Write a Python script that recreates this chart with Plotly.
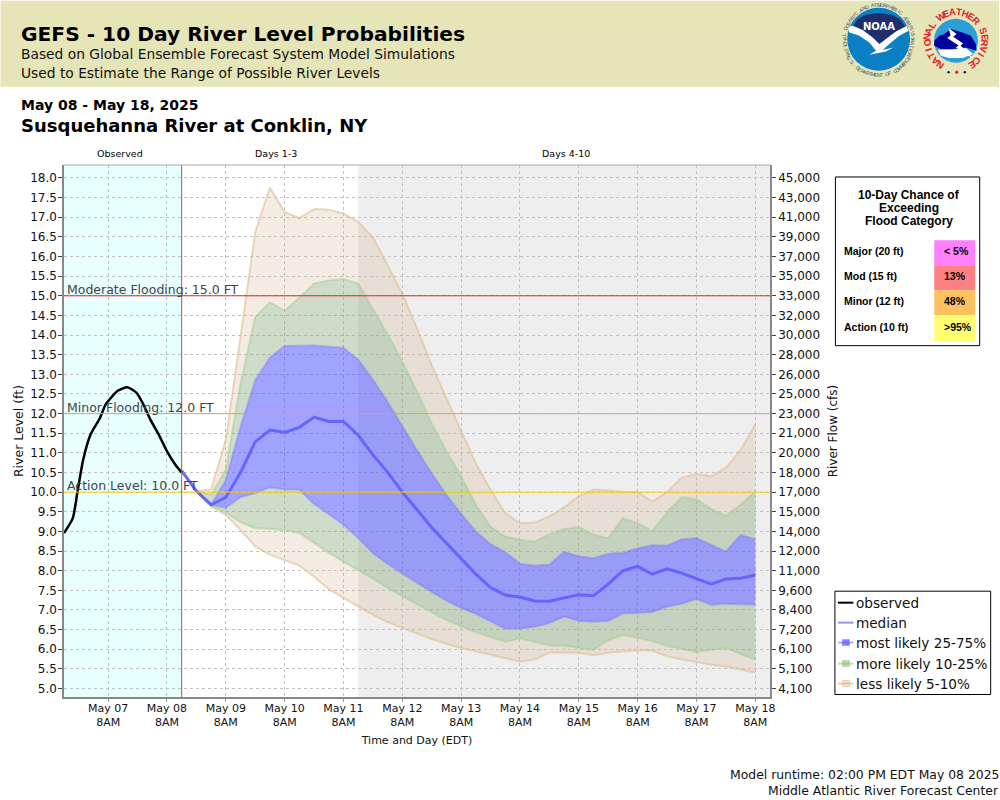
import math
import pandas as pd
import plotly.graph_objects as go

# ---------- data ----------
forecast_start = "2025-05-08 14:00"
observed_start = "2025-05-06 14:00"
observed_hours = [0, 3.6, 5.4, 7.8, 10.8, 14.6, 16.9, 19.0, 21.9, 25.8, 29.6, 32.5, 35.3, 38.7, 42.1, 45.5, 48]
observed_level = [8.96, 9.34, 9.97, 10.82, 11.46, 11.88, 12.22, 12.39, 12.58, 12.67, 12.53, 12.22, 11.84, 11.46, 11.03, 10.69, 10.50]

median = [10.54, 10.03, 9.68, 9.87, 10.50, 11.28, 11.58, 11.52, 11.65, 11.91, 11.80, 11.80, 11.45, 10.95, 10.51, 10.00,
          9.55, 9.10, 8.70, 8.30, 7.91, 7.57, 7.38, 7.33, 7.23, 7.22, 7.30, 7.39, 7.36, 7.66, 8.00, 8.11, 7.91, 8.05, 7.94, 7.80, 7.66, 7.79, 7.81, 7.89]
p75 = [10.54, 10.03, 9.68, 10.31, 11.67, 12.85, 13.43, 13.73, 13.73, 13.74, 13.71, 13.68, 13.38, 12.87, 12.30, 11.67,
       11.07, 10.48, 9.93, 9.45, 9.00, 8.68, 8.47, 8.18, 8.13, 8.16, 8.48, 8.37, 8.32, 8.43, 8.46, 8.57, 8.65, 8.64, 8.80, 8.83, 8.66, 8.49, 8.91, 8.80]
p25 = [10.54, 10.03, 9.68, 9.60, 9.87, 9.97, 10.12, 10.07, 10.06, 9.70, 9.44, 9.17, 8.83, 8.45, 8.17, 7.92,
       7.69, 7.46, 7.24, 7.05, 6.90, 6.71, 6.52, 6.53, 6.57, 6.67, 6.83, 6.72, 6.70, 6.72, 6.91, 6.92, 6.95, 7.08, 7.16, 7.28, 7.13, 7.16, 7.14, 7.13]
p90 = [10.54, 10.03, 9.93, 10.57, 12.76, 14.46, 14.83, 14.62, 14.95, 15.31, 15.39, 15.43, 15.31, 14.67, 14.02, 13.32,
       12.56, 11.75, 11.05, 10.40, 9.68, 9.12, 8.87, 8.79, 8.74, 8.93, 9.06, 9.11, 8.92, 8.83, 9.34, 9.21, 9.01, 9.49, 9.87, 9.82, 9.57, 9.40, 9.68, 10.02]
p10 = [10.54, 10.03, 9.66, 9.48, 9.24, 9.08, 9.07, 9.03, 8.96, 8.70, 8.46, 8.23, 8.02, 7.80, 7.56, 7.35,
       7.13, 6.94, 6.75, 6.58, 6.43, 6.31, 6.19, 6.28, 6.19, 6.10, 6.09, 6.03, 5.98, 6.23, 6.36, 6.29, 6.21, 6.09, 6.01, 5.93, 5.99, 6.03, 5.88, 5.74]
p95 = [10.54, 10.03, 10.07, 11.33, 13.95, 16.62, 17.75, 17.13, 16.98, 17.21, 17.19, 17.10, 16.88, 16.49, 15.78, 15.05,
       14.17, 13.23, 12.39, 11.56, 10.73, 10.06, 9.46, 9.21, 9.23, 9.38, 9.61, 9.89, 10.07, 10.04, 10.01, 10.00, 9.76, 10.00, 10.37, 10.46, 10.40, 10.62, 11.07, 11.73]
p5 = [10.54, 10.03, 9.63, 9.42, 9.04, 8.62, 8.41, 8.28, 8.13, 7.85, 7.53, 7.31, 7.09, 6.88, 6.69, 6.54,
      6.40, 6.26, 6.14, 6.03, 5.95, 5.86, 5.78, 5.69, 5.74, 5.92, 5.92, 5.91, 5.85, 5.91, 5.95, 5.97, 5.97, 5.82, 5.74, 5.67, 5.61, 5.56, 5.48, 5.41]

level_ticks = [5.0, 5.5, 6.0, 6.5, 7.0, 7.5, 8.0, 8.5, 9.0, 9.5, 10.0, 10.5, 11.0, 11.5, 12.0, 12.5, 13.0, 13.5,
               14.0, 14.5, 15.0, 15.5, 16.0, 16.5, 17.0, 17.5, 18.0]
flow_ticks = ["4,100", "5,100", "6,100", "7,200", "8,400", "9,600", "11,000", "12,000", "14,000", "15,000", "17,000",
              "18,000", "20,000", "21,000", "23,000", "25,000", "26,000", "28,000", "30,000", "32,000", "33,000",
              "35,000", "37,000", "39,000", "41,000", "43,000", "45,000"]
day_ticks = ["2025-05-%02d 08:00" % d for d in range(7, 19)]
day_labels = ["May %02d<br>8AM" % d for d in range(7, 19)]

thresholds = [("Moderate Flooding: 15.0 FT", 15.0, "#F02020"), ("Minor Flooding: 12.0 FT", 12.0, "#E8A060"), ("Action Level: 10.0 FT", 10.0, "#FFCC00")]
categories = ["Major (20 ft)", "Mod (15 ft)", "Minor (12 ft)", "Action (10 ft)"]
chances = ["< 5%", "13%", "48%", ">95%"]
chance_colors = ["#FF80FF", "#FF8080", "#FFC060", "#FFFF70"]

legend_rows = [("observed", "#000000", None), ("median", "rgba(102,102,255,0.7)", None),
               ("most likely 25-75%", "rgba(102,102,255,0.55)", "rgba(86,86,255,0.7)"),
               ("more likely 10-25%", "rgba(150,200,130,0.6)", "rgba(135,168,120,0.5)"),
               ("less likely 5-10%", "rgba(225,195,160,0.8)", "rgba(210,180,140,0.35)")]

x_start, x_end = "2025-05-06 14:00", "2025-05-18 14:00"
split_now, split_days = "2025-05-08 14:00", "2025-05-11 14:00"

# ---------- layout geometry (pixels) ----------
L, R, T, B = 63.5, 770.5, 164.5, 697.5
W, H = R - L, B - T
def px(x): return (x - L) / W
def py(y): return 1 - (y - T) / H

times = pd.date_range(forecast_start, periods=len(median), freq="6h")
obs_times = [pd.Timestamp(observed_start) + pd.Timedelta(hours=h) for h in observed_hours]

fig = go.Figure()
TAN = "rgba(210,180,140,0.25)"; GREEN = "rgba(135,168,120,0.4)"; BLUE = "rgba(86,86,255,0.55)"
TAN_L = "rgba(222,190,150,0.6)"; GREEN_L = "rgba(160,205,140,0.5)"; BLUE_L = "rgba(100,100,255,0.3)"
def band(y, fillc, linec, fill="tonexty"):
    fig.add_trace(go.Scatter(x=times, y=y, mode="lines", line=dict(color=linec, width=2), fill=fill, fillcolor=fillc,
                             showlegend=False, hoverinfo="skip"))
band(p5, None, TAN_L, fill="none")
band(p10, TAN, GREEN_L)
band(p25, GREEN, BLUE_L)
band(p75, BLUE, BLUE_L)
band(p90, GREEN, GREEN_L)
band(p95, TAN, TAN_L)
fig.add_trace(go.Scatter(x=times, y=median, mode="lines", name="median", line=dict(color="rgba(90,90,255,0.85)", width=3), showlegend=False))
fig.add_trace(go.Scatter(x=obs_times, y=observed_level, mode="lines", name="observed", line=dict(color="#000000", width=2.5, shape="spline", smoothing=0.6), showlegend=False))
# keeps the right-hand flow axis alive
fig.add_trace(go.Scatter(x=[x_start], y=[level_ticks[0]], yaxis="y2", mode="lines", line=dict(width=0), showlegend=False, hoverinfo="skip"))

shapes, ann = [], []
def rect(x0, y0, x1, y1, fill=None, line=None, lw=1, layer="above"):
    shapes.append(dict(type="rect", xref="paper", yref="paper", x0=px(x0), x1=px(x1), y0=py(y0), y1=py(y1),
                       fillcolor=fill, line=dict(color=line, width=lw if line else 0), layer=layer))
def hline(x0, x1, y, color, lw):
    shapes.append(dict(type="line", xref="paper", yref="paper", x0=px(x0), x1=px(x1), y0=py(y), y1=py(y), line=dict(color=color, width=lw)))
def circle(cx, cy, r, fill, line=None):
    shapes.append(dict(type="circle", xref="paper", yref="paper", x0=px(cx - r), x1=px(cx + r), y0=py(cy - r), y1=py(cy + r),
                       fillcolor=fill, line=dict(color=line, width=1 if line else 0)))
def poly(points, fill):
    d = "M " + " L ".join("%.5f,%.5f" % (px(a), py(b)) for a, b in points) + " Z"
    shapes.append(dict(type="path", xref="paper", yref="paper", path=d, fillcolor=fill, line=dict(width=0)))
def text(x, y, s, size, color="#000000", bold=False, family="DejaVu Sans", anchor="left", angle=0):
    ann.append(dict(xref="paper", yref="paper", x=px(x), y=py(y), text="<b>%s</b>" % s if bold else s, showarrow=False,
                    xanchor=anchor, yanchor="middle", textangle=angle, font=dict(size=size, color=color, family=family),
                    borderpad=0, borderwidth=0, align=anchor))

# background regions (under the grid)
shapes.append(dict(type="rect", xref="x", yref="paper", x0=x_start, x1=split_now, y0=0, y1=1, fillcolor="#E8FFFF", line=dict(width=0), layer="below"))
shapes.append(dict(type="rect", xref="x", yref="paper", x0=split_days, x1=x_end, y0=0, y1=1, fillcolor="#EEEEEE", line=dict(width=0), layer="below"))
# thresholds
for label, lvl, col in thresholds:
    shapes.append(dict(type="line", xref="paper", yref="y", x0=0, x1=1, y0=lvl, y1=lvl, line=dict(color=col, width=1)))
    ann.append(dict(xref="x", yref="y", x=x_start, y=lvl, xshift=0.5, yshift=6.5, text=label, showarrow=False, xanchor="left", yanchor="middle",
                    font=dict(size=12.5, color="#444444", family="DejaVu Sans")))
shapes.append(dict(type="line", xref="x", yref="paper", x0=split_now, x1=split_now, y0=0, y1=1, line=dict(color="#E04040", width=1)))
hline(L, R, T, "#AAAAAA", 1)

# banner
rect(0, 0, 1000, 86, fill="#E5E5B8")
text(20, 33, "GEFS - 10 Day River Level Probabilities", 20.2, bold=True)
text(20, 53, "Based on Global Ensemble Forecast System Model Simulations", 13.8, color="#111111")
text(20, 72, "Used to Estimate the Range of Possible River Levels", 13.8, color="#111111")
text(20, 104, "May 08 - May 18, 2025", 14, bold=True)
text(20, 125, "Susquehanna River at Conklin, NY", 18, bold=True)
text(120, 153, "Observed", 9.5, anchor="center")
text(276, 153, "Days 1-3", 9.5, anchor="center")
text(566, 153, "Days 4-10", 9.5, anchor="center")

# NOAA logo
NX, NY = 879.3, 38.5
circle(NX, NY, 31.5, "#0A7FC4")
def z(points):  # logo sketch coordinates, 3x crop of the banner
    return [(820 + a / 3, b / 3) for a, b in points]
poly(z([(100, 78), (115, 55), (140, 42), (178, 37), (216, 42), (242, 55), (258, 78), (225, 95), (195, 120), (180, 132), (160, 110), (130, 90)]), "#1F2F6B")
poly(z([(86, 78), (100, 75), (130, 88), (160, 110), (180, 130), (200, 115), (230, 92), (262, 76), (268, 90), (240, 105), (210, 130), (190, 148), (222, 140), (200, 152), (150, 162), (170, 150), (150, 125), (120, 105), (90, 95)]), "#FFFFFF")
text(NX, 25.5, "NOAA", 10, color="#FFFFFF", bold=True, anchor="center")
def ring(s, cx, cy, r, a0, a1, size, color, bold=False, bottom=False):
    n = len(s)
    for i, ch in enumerate(s):
        if ch == " ":
            continue
        a = a0 + (a1 - a0) * i / (n - 1)
        t = math.radians(a)
        text(cx + r * math.sin(t), cy - r * math.cos(t), ch, size, color=color, bold=bold, family="Liberation Sans",
             anchor="center", angle=(a + 180 if bottom else a))
ring("NATIONAL OCEANIC AND ATMOSPHERIC ADMINISTRATION", NX, NY, 34.5, -118, 118, 5, "#3A4A70")
ring("U.S. DEPARTMENT OF COMMERCE", NX, NY, 35.5, 238, 122, 5, "#3A4A70", bottom=True)

# NWS logo
SX, SY = 956.7, 40
circle(SX, SY, 22, "#2A9FD8")
poly(z([(345, 120), (360, 105), (375, 100), (395, 85), (430, 95), (455, 105), (470, 130), (472, 150), (440, 140), (400, 145), (365, 145), (345, 135)]), "#00009C")
poly(z([(355, 147), (400, 146), (440, 142), (462, 160), (430, 172), (390, 172), (365, 165)]), "#FFFFFF")
poly(z([(388, 82), (412, 100), (402, 108), (432, 128), (424, 134), (468, 178), (410, 140), (418, 134), (384, 112), (394, 104)]), "#FFFFFF")
ring("NATIONAL WEATHER SERVICE", SX, SY, 29, -146, 146, 9.5, "#E0202A", bold=True)
circle(949.3, 71.5, 1.2, "#00009C"); circle(957.6, 71.5, 1.6, "#E0202A"); circle(965.6, 71.5, 1.2, "#00009C")

# flood-category table
rect(836, 176.5, 980.5, 345.5, fill="#FFFFFF", line="#000000", lw=1)
for yy, s in zip([195, 208, 221], ["10-Day Chance of", "Exceeding", "Flood Category"]):
    text(910, yy, s, 12, bold=True, family="Liberation Sans", anchor="center")
cell_edges = [240, 265, 290, 315, 341]
for i, (cat, ch, col) in enumerate(zip(categories, chances, chance_colors)):
    rect(935, cell_edges[i], 976, cell_edges[i + 1], fill=col)
    mid = (cell_edges[i] + cell_edges[i + 1]) / 2 - 1.5
    text(845, mid, cat, 10.5, bold=True, family="Liberation Sans")
    text(945, mid, ch, 10.5, bold=True, family="Liberation Sans")

# series key
rect(835.5, 591.5, 991.5, 695, fill="#FFFFFF", line="#000000", lw=1)
rows_y = [603, 623, 643, 664, 684]
for yy, (name, lc, mk) in zip(rows_y, legend_rows):
    hline(838.5, 854, yy, lc, 2)
    if mk:
        rect(843, yy - 3, 850, yy + 3, fill=mk, line=lc, lw=0.8)
    text(856.5, yy, name, 13.6, color="#111111")

# footer
text(999.5, 775, "Model runtime: 02:00 PM EDT May 08 2025", 12.4, anchor="right", color="#111111")
text(999.5, 791, "Middle Atlantic River Forecast Center", 12.4, anchor="right", color="#111111")

yrange = [5 - (B - 689.0) / 39.35, 18 + (177.5 - T) / 39.35]
grid = dict(showgrid=True, gridcolor="#C0C0C0", griddash="3px,3px", gridwidth=1, zeroline=False)
fig.update_layout(
    width=1000, height=800, autosize=False, paper_bgcolor="#FFFFFF", plot_bgcolor="rgba(0,0,0,0)",
    margin=dict(l=L, r=1000 - R, t=T, b=800 - B), showlegend=False, shapes=shapes, annotations=ann,
    font=dict(family="DejaVu Sans", color="#111111"),
    xaxis=dict(type="date", range=[x_start, x_end], tickvals=day_ticks, ticktext=day_labels, tickfont=dict(size=11), ticks="outside",
               ticklen=3, tickcolor="#999999", showline=True, linecolor="#888888", linewidth=1.5, tickangle=0, automargin=False,
               ticklabelstandoff=-3, title=dict(text="Time and Day (EDT)", font=dict(size=11), standoff=8), **grid),
    yaxis=dict(range=yrange, tickvals=level_ticks, ticktext=["%.1f" % v for v in level_ticks], tickfont=dict(size=12), ticks="outside",
               ticklen=4, tickcolor="#444444", showline=True, linecolor="#888888", linewidth=1.5, automargin=False,
               ticklabelstandoff=-1, title=dict(text="River Level (ft)", font=dict(size=12.5), standoff=4), **grid),
    yaxis2=dict(range=yrange, overlaying="y", side="right", anchor="x", tickvals=level_ticks, ticktext=flow_ticks, tickfont=dict(size=12),
                ticks="outside", ticklen=4, tickcolor="#444444", showline=True, linecolor="#888888", linewidth=1.5, showgrid=False, zeroline=False, automargin=False,
                title=dict(text="River Flow (cfs)", font=dict(size=12), standoff=9)),
)
fig.write_html("out.html", config={"displayModeBar": False},
               post_script="document.body.style.margin='0';document.body.style.overflow='hidden';")
